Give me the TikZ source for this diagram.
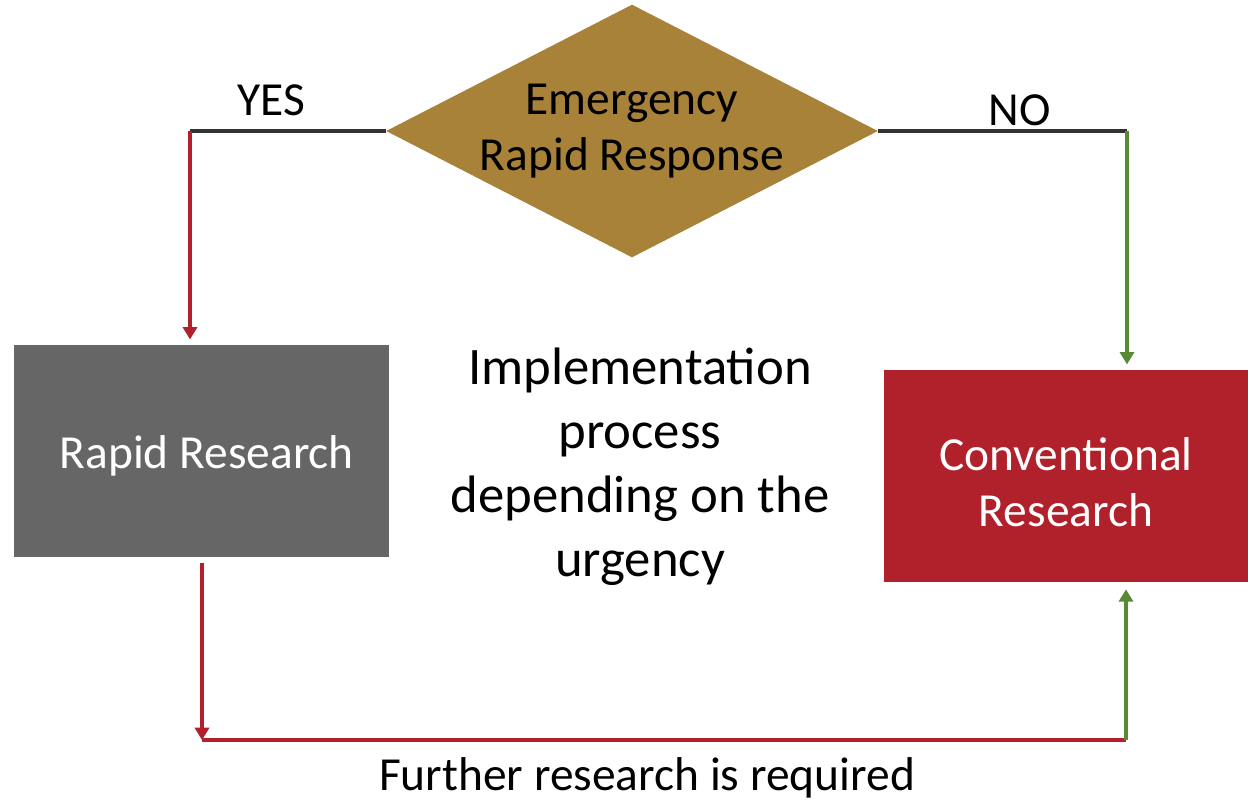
\documentclass[tikz,border=0pt]{standalone}
\usepackage{fontspec}
\setmainfont{Carlito}
\usetikzlibrary{shapes.geometric, arrows.meta, calc}

\definecolor{erpgold}{HTML}{A98239}
\definecolor{rapidgray}{HTML}{666666}
\definecolor{convred}{HTML}{B0212B}
\definecolor{nogreen}{HTML}{588A35}
\definecolor{linegray}{HTML}{333333}

\begin{document}
\begin{tikzpicture}[x=0.02cm, y=-0.02cm,
	every node/.style={font=\fontsize{27}{32}\selectfont},
	box/.style={rectangle, minimum height=4.24cm, text=white, inner sep=0pt},
	tip/.style={-{Triangle[width=8pt,length=7pt]}},
	wire/.style={line width=2pt}]
	\useasboundingbox (0,0) rectangle (1248,802);

	% decision
	\begin{scope}
		\node [diamond, fill=erpgold, minimum width=9.84cm, minimum height=5.06cm, inner sep=0pt] (erp) at (632,131) {};
		\node [align=center] (erptext) at (erp) {Emergency\\Rapid Response};
	\end{scope}

	% the two ways
	\begin{scope}
		\node [box, fill=rapidgray, minimum width=7.5cm] (rapid) at (201.5,451) {\hspace{6pt}\raisebox{-2.8pt}[\height][\depth]{Rapid Research}};
		\node [box, fill=convred, minimum width=7.28cm, align=center] (conv) at (1066,476) {\raisebox{-3.4pt}[\height][\depth]{Conventional}\\\raisebox{-3.4pt}[\height][\depth]{Research}};
		\node [align=center, font=\fontsize{30}{36.5}\selectfont] (impl) at (640,467) {Implementation\\process\\depending on the\\urgency};
	\end{scope}

	\coordinate (yes) at (190,131);
	\coordinate (no) at (1127,131);
	\coordinate (botleft) at (202,740);
	\coordinate (botright) at (1126,740);

	\begin{scope}[wire]
		\draw [linegray] (erp.west) -- (yes);
		\draw [convred, tip, shorten >=3pt] (yes) -- (yes |- rapid.north);
		\draw [linegray] (erp.east) -- (no);
		\draw [nogreen, tip, shorten >=3pt] (no) -- (no |- conv.north);
		\draw [convred, tip, shorten <=3.4pt] (botleft |- rapid.south) -- (botleft);
		\draw [convred] (botleft) -- (botright);
		\draw [nogreen, tip, shorten >=4pt] (botright) -- (botright |- conv.south);
	\end{scope}

	\node (yeslabel) at (271,100) {YES};
	\node (nolabel) at (1020,110) {NO};
	\node (further) at (647,778) {Further research is required};
\end{tikzpicture}
\end{document}
